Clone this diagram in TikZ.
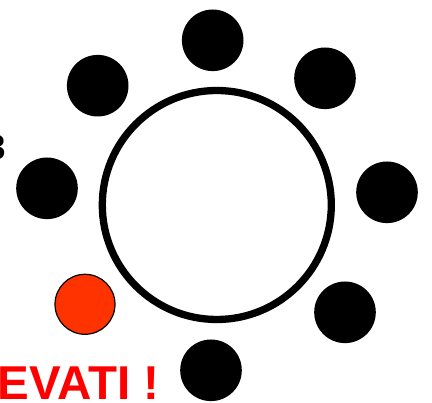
\documentclass[tikz,border=0pt]{standalone}
\usepackage{fontspec}
\setmainfont{Liberation Sans}
\definecolor{redorange}{HTML}{FF3300}
\definecolor{textred}{HTML}{FF0000}
\begin{document}
\begin{tikzpicture}[x=1pt,y=-1pt,
  seat/.style={circle,fill=black,minimum size=61.6pt,inner sep=0pt},
  redseat/.style={circle,fill=redorange,draw=black,line width=1.2pt,minimum size=60pt,inner sep=0pt},
  table/.style={circle,draw=black,line width=7.3pt,minimum size=229pt,inner sep=0pt}]
\clip (0,0) rectangle (432,403);
\useasboundingbox (0,0) rectangle (432,403);
\node[table] (tab) at (216.8,205) {};
\node[seat] (s1) at (212.7,40.3) {};
\node[seat] (s2) at (97.7,85.7) {};
\node[seat] (s3) at (325,78.3) {};
\node[seat] (s4) at (47,188.3) {};
\node[seat] (s5) at (387,192.3) {};
\node[seat] (s6) at (345,312.3) {};
\node[seat] (s7) at (211,370.3) {};
\node[redseat] (r1) at (85,304.3) {};
\node[anchor=base east,inner sep=0pt,font=\bfseries\fontsize{35}{35}\selectfont] (t3) at (6.5,160) {3};
\node[anchor=base east,inner sep=0pt,text=textred,font=\bfseries\fontsize{47.5}{47.5}\selectfont] (lbl) at (160,400) {EVATI !};
\end{tikzpicture}
\end{document}
